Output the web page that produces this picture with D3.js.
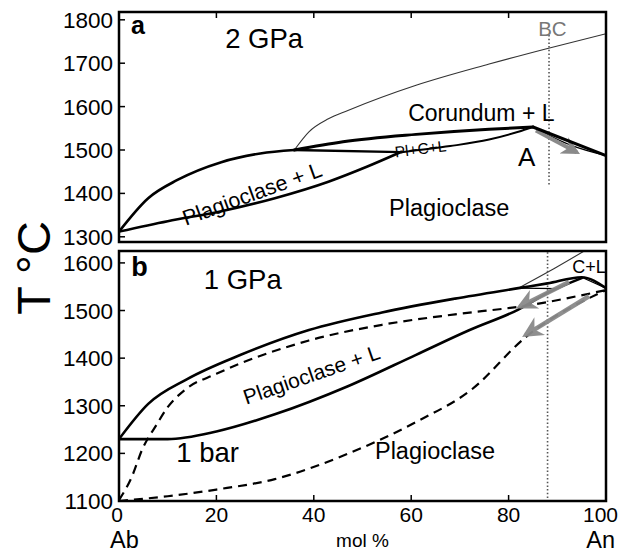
<!DOCTYPE html>
<html>
<head>
<meta charset="utf-8">
<script src="https://cdn.jsdelivr.net/npm/d3@7"></script>
<style>
  body { margin: 0; background: #fff; }
  text { font-family: "Liberation Sans", Arial, sans-serif; fill: #000; }
</style>
</head>
<body>
<svg id="chart" width="618" height="554"></svg>
<script>
// ---- tick values
var xTicks = [0, 20, 40, 60, 80, 100];
var tTicksA = [1300, 1400, 1500, 1600, 1700, 1800];
var tTicksB = [1100, 1200, 1300, 1400, 1500, 1600];

// ---- panel a, 2 GPa  [mol% An, T degC]
var plagLiqA = [[0, 1312], [6, 1389], [12, 1431], [21, 1472], [29, 1492], [36, 1500]];
var plagSolA = [[0, 1312], [10, 1336], [21, 1359], [32, 1389], [43, 1427], [51, 1462], [58, 1496]];
var threePhaseA = [[36, 1500], [58, 1495]];
var corPlagLiqA = [[36, 1500], [46, 1519], [61, 1536], [76, 1548], [85, 1553]];
var plagCorSolA = [[58, 1495], [68, 1509], [76, 1524], [82, 1542], [85, 1553]];
var anSideA = [[85, 1553], [100, 1487]];
var anSideLowA = [[85, 1553], [93, 1510], [100, 1487]];
var corLiqA = [[36, 1500], [39, 1542], [43, 1572], [47, 1591], [61, 1649], [76, 1698], [88, 1734], [100, 1768]];
var arrowsA = [[[85.6, 1545], [94, 1495]]];
var dottedA = [[88.3, 1765], [88.3, 1420]];

// ---- panel b, 1 GPa solid and 1 bar dashed
var liqB = [[0, 1230], [6, 1304], [14, 1356], [25, 1407], [39, 1459], [54, 1496], [69, 1525], [82, 1547], [88, 1557], [95, 1570], [100, 1547]];
var solB = [[0, 1230], [10, 1230], [20, 1246], [32, 1282], [47, 1341], [61, 1407], [72, 1459], [82, 1502], [88, 1537], [95, 1568]];
var anSideLowB = [[95, 1570], [100, 1547]];
var corLiqB = [[82, 1547], [90, 1592], [98, 1640]];
var threePhaseB = [[82, 1547], [90, 1546]];
var liq1bar = [[0, 1102], [2.6, 1150], [4.8, 1209], [7.7, 1260], [10, 1297], [13.6, 1334], [20, 1367], [39, 1437], [54, 1470], [69, 1492], [83.5, 1510], [100, 1543]];
var sol1bar = [[0, 1100], [10, 1110], [20, 1124], [32, 1146], [46.7, 1198], [61.4, 1268], [72.4, 1334], [83.5, 1444], [100, 1543]];
var arrowsB = [[[92.4, 1560], [82.3, 1508]], [[96.5, 1530], [83.5, 1449]]];
var dottedB = [[88, 1630], [88, 1100]];

// ---- scales
var x = d3.scaleLinear().domain([0, 100]).range([119, 606]);
var yA = d3.scaleLinear().domain([1288, 1818]).range([242, 12]);
var yB = d3.scaleLinear().domain([1100, 1625]).range([501, 251]);

var svg = d3.select("#chart");
var defs = svg.append("defs");

defs.append("marker")
  .attr("id", "head")
  .attr("viewBox", "0 0 10 10")
  .attr("refX", 8)
  .attr("refY", 5)
  .attr("markerWidth", 5)
  .attr("markerHeight", 4.6)
  .attr("orient", "auto")
  .append("path")
  .attr("d", "M0,0 L10,5 L0,10 L3,5 Z")
  .attr("fill", "#8a8a8a");

function panel(id, y, tTicks, xTickSide) {
  var x0 = x.range()[0], x1 = x.range()[1];
  var top = y.range()[1], bottom = y.range()[0];

  defs.append("clipPath").attr("id", "clip" + id)
    .append("rect")
    .attr("x", x0).attr("y", top)
    .attr("width", x1 - x0).attr("height", bottom - top);

  var g = svg.append("g");
  var plot = g.append("g").attr("clip-path", "url(#clip" + id + ")");

  // y ticks, inside
  g.selectAll(".yt").data(tTicks).enter().append("line")
    .attr("x1", x0).attr("x2", x0 + 6)
    .attr("y1", (d) => y(d)).attr("y2", (d) => y(d))
    .attr("stroke", "#000").attr("stroke-width", 1.5);

  g.selectAll(".yl").data(tTicks).enter().append("text")
    .attr("x", x0 - 6)
    .attr("y", (d) => y(d))
    .attr("dy", "0.36em")
    .attr("text-anchor", "end")
    .style("font-size", "22.5px")
    .text((d) => d);

  // x ticks, inside, on top or bottom edge
  var inner = xTicks.slice(1, -1);
  var yEdge = xTickSide == "top" ? top : bottom;
  var dir = xTickSide == "top" ? 6 : -6;
  g.selectAll(".xt").data(inner).enter().append("line")
    .attr("x1", (d) => x(d)).attr("x2", (d) => x(d))
    .attr("y1", yEdge).attr("y2", yEdge + dir)
    .attr("stroke", "#000").attr("stroke-width", 1.5);

  return { g: g, plot: plot, top: top, bottom: bottom };
}

function line(y, curve) {
  return d3.line()
    .x((d) => x(d[0]))
    .y((d) => y(d[1]))
    .curve(curve || d3.curveMonotoneX);
}

function drawPath(g, data, y, opts) {
  g.append("path")
    .datum(data)
    .attr("d", line(y, opts.curve))
    .attr("fill", "none")
    .attr("stroke", opts.color || "#000")
    .attr("stroke-width", opts.width || 2.5)
    .attr("stroke-dasharray", opts.dash || null)
    .attr("stroke-linejoin", "round")
    .attr("stroke-linecap", opts.cap || "round")
    .attr("marker-end", opts.marker || null)
    .attr("opacity", opts.opacity || 1);
}

function label(g, y, txt, px, t, size, opts) {
  opts = opts || {};
  return g.append("text")
    .attr("transform", "translate(" + x(px) + "," + y(t) + ") rotate(" + (opts.rotate || 0) + ")")
    .attr("text-anchor", "middle")
    .attr("dy", "0.36em")
    .style("font-size", size + "px")
    .style("font-weight", opts.bold ? "bold" : null)
    .style("fill", opts.color || "#000")
    .text(txt);
}

// ================= panel a
var pA = panel("A", yA, tTicksA, "top");

drawPath(pA.plot, corLiqA, yA, { width: 1.1, color: "#333" });
drawPath(pA.plot, dottedA, yA, { width: 1.6, color: "#555", dash: "1.5,2.2", cap: "butt", curve: d3.curveLinear });
drawPath(pA.plot, plagLiqA, yA, { width: 2.6 });
drawPath(pA.plot, plagSolA, yA, { width: 2.6 });
drawPath(pA.plot, threePhaseA, yA, { width: 2.4, curve: d3.curveLinear });
drawPath(pA.plot, corPlagLiqA, yA, { width: 3 });
drawPath(pA.plot, plagCorSolA, yA, { width: 2 });
drawPath(pA.plot, anSideLowA, yA, { width: 1.3 });
arrowsA.forEach(function (a) {
  drawPath(pA.plot, a, yA, { width: 4, color: "#8a8a8a", curve: d3.curveLinear, marker: "url(#head)", cap: "butt" });
});
drawPath(pA.plot, anSideA, yA, { width: 3, curve: d3.curveLinear });

label(pA.g, yA, "a", 3.9, 1787, 25, { bold: true });
label(pA.g, yA, "2 GPa", 29.8, 1757, 27.5);
label(pA.g, yA, "BC", 89, 1780, 20.5, { color: "#777" });
label(pA.g, yA, "Corundum + L", 74.4, 1587, 23);
label(pA.g, yA, "Pl+C+L", 61.9, 1503, 15.5, { rotate: -7 });
label(pA.g, yA, "A", 83.7, 1484, 26);
label(pA.g, yA, "Plagioclase + L", 27.3, 1400, 21.5, { rotate: -20 });
label(pA.g, yA, "Plagioclase", 67.8, 1368, 23.5);

pA.g.append("rect")
  .attr("x", x(0)).attr("y", pA.top)
  .attr("width", x(100) - x(0)).attr("height", pA.bottom - pA.top)
  .attr("fill", "none").attr("stroke", "#000").attr("stroke-width", 2.5);

// ================= panel b
var pB = panel("B", yB, tTicksB, "bottom");

drawPath(pB.plot, corLiqB, yB, { width: 1.1, color: "#333" });
drawPath(pB.plot, dottedB, yB, { width: 1.6, color: "#555", dash: "1.5,2.2", cap: "butt", curve: d3.curveLinear });
drawPath(pB.plot, liq1bar, yB, { width: 2.2, dash: "9,6", cap: "butt" });
drawPath(pB.plot, sol1bar, yB, { width: 2.2, dash: "9,6", cap: "butt" });
drawPath(pB.plot, threePhaseB, yB, { width: 1.2, curve: d3.curveLinear });
drawPath(pB.plot, anSideLowB, yB, { width: 1.2, curve: d3.curveLinear });
drawPath(pB.plot, solB, yB, { width: 2.6 });
arrowsB.forEach(function (a) {
  drawPath(pB.plot, a, yB, { width: 4.5, color: "#8a8a8a", curve: d3.curveLinear, marker: "url(#head)", cap: "butt", opacity: 0.95 });
});
drawPath(pB.plot, liqB, yB, { width: 2.6 });

label(pB.g, yB, "b", 4.2, 1592, 27, { bold: true });
label(pB.g, yB, "1 GPa", 25.4, 1566, 27.5);
label(pB.g, yB, "C+L", 96.5, 1592, 18);
label(pB.g, yB, "Plagioclase + L", 39.5, 1366, 21, { rotate: -19 });
label(pB.g, yB, "1 bar", 18.2, 1203, 27.5);
label(pB.g, yB, "Plagioclase", 64.9, 1205, 23.5);

pB.g.append("rect")
  .attr("x", x(0)).attr("y", pB.top)
  .attr("width", x(100) - x(0)).attr("height", pB.bottom - pB.top)
  .attr("fill", "none").attr("stroke", "#000").attr("stroke-width", 2.5);

// x tick labels under panel b
svg.selectAll(".xl").data(xTicks).enter().append("text")
  .attr("x", (d) => (d == 100 ? 618 : x(d) - (d == 0 ? 2 : 0)))
  .attr("y", pB.bottom + 13)
  .attr("dy", "0.36em")
  .attr("text-anchor", (d) => (d == 100 ? "end" : "middle"))
  .style("font-size", "21px")
  .text((d) => d);

svg.append("text")
  .attr("x", 110).attr("y", 548)
  .style("font-size", "23.5px")
  .text("Ab");
svg.append("text")
  .attr("x", 615).attr("y", 548)
  .attr("text-anchor", "end")
  .style("font-size", "23.5px")
  .text("An");
svg.append("text")
  .attr("x", x(50)).attr("y", 547)
  .attr("text-anchor", "middle")
  .style("font-size", "19px")
  .text("mol %");

// y axis title
svg.append("text")
  .attr("transform", "translate(50,268) rotate(-90)")
  .attr("text-anchor", "middle")
  .style("font-size", "47px")
  .text("T \u00B0C");
</script>
</body>
</html>
